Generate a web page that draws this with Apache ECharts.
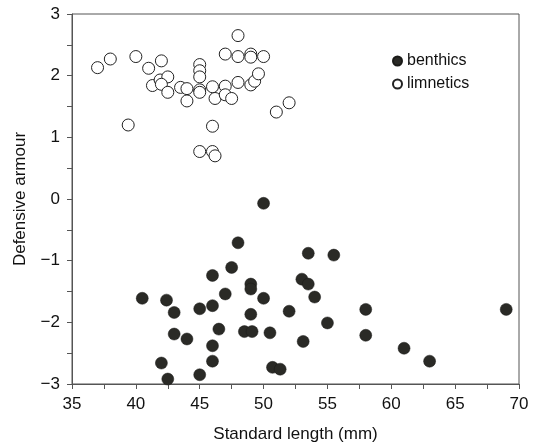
<!DOCTYPE html>
<html>
<head>
<meta charset="utf-8">
<script src="https://cdn.jsdelivr.net/npm/echarts@6/dist/echarts.min.js"></script>
<style>
  html, body { margin: 0; padding: 0; background: #fff; }
  #main { width: 539px; height: 444px; }
</style>
</head>
<body>
<div id="main"></div>
<script>
// benthics: [standard length, defensive armour]
var benthics = [
  [40.5, -1.61], [42.4, -1.64], [43.0, -1.84], [43.0, -2.19], [44.0, -2.27],
  [42.0, -2.66], [42.5, -2.92], [45.0, -2.85], [45.0, -1.78], [46.0, -1.24],
  [46.0, -1.73], [46.0, -2.38], [46.0, -2.63], [46.5, -2.11], [47.0, -1.54],
  [47.5, -1.11], [48.0, -0.71], [48.5, -2.15], [49.0, -1.38], [49.0, -1.46],
  [49.0, -1.87], [49.1, -2.15], [50.0, -0.07], [50.0, -1.61], [50.5, -2.17],
  [50.7, -2.73], [51.3, -2.76], [52.0, -1.82], [53.0, -1.30], [53.1, -2.31],
  [53.5, -0.88], [53.5, -1.38], [54.0, -1.59], [55.0, -2.01], [55.5, -0.91],
  [58.0, -1.79], [58.0, -2.21], [61.0, -2.42], [63.0, -2.63], [69.0, -1.79]
];
// limnetics
var limnetics = [
  [37.0, 2.13], [38.0, 2.27], [40.0, 2.31], [41.0, 2.12], [42.0, 2.24],
  [41.3, 1.84], [41.9, 1.93], [42.5, 1.98], [42.0, 1.86], [42.5, 1.73],
  [43.5, 1.81], [44.0, 1.79], [44.0, 1.59], [45.0, 2.18], [45.0, 2.08],
  [45.0, 1.98], [45.0, 1.77], [45.0, 1.73], [46.0, 1.82], [46.2, 1.63],
  [47.0, 2.35], [47.0, 1.83], [47.0, 1.69], [47.5, 1.63], [48.0, 2.65],
  [48.0, 2.31], [48.0, 1.89], [49.0, 2.35], [49.0, 2.30], [49.0, 1.85],
  [49.3, 1.91], [49.6, 2.03], [50.0, 2.31], [51.0, 1.41], [52.0, 1.56],
  [39.4, 1.20], [46.0, 1.18], [45.0, 0.77], [46.0, 0.77], [46.2, 0.70]
];
var seriesNames = ["benthics", "limnetics"];
var xTitle = "Standard length (mm)";
var yTitle = "Defensive armour";

var chart = echarts.init(document.getElementById("main"));
var font = "Liberation Sans, Arial, sans-serif";
var axisColor = "#555";

var option = {
  backgroundColor: "#fff",
  animation: false,
  grid: {
    left: 72, right: 20, top: 14, bottom: 60,
    outerBoundsMode: "none", containLabel: false,
    show: true, borderColor: axisColor, borderWidth: 1
  },
  legend: {
    data: [
      { name: "benthics", icon: "circle" },
      { name: "limnetics", icon: "circle" }
    ],
    orient: "vertical",
    left: 387, top: 48,
    itemWidth: 9, itemHeight: 9, itemGap: 7,
    textStyle: { fontFamily: font, fontSize: 16, color: "#111" }
  },
  xAxis: {
    type: "value", min: 35, max: 70, interval: 5,
    name: xTitle, nameLocation: "middle", nameGap: 42,
    nameTextStyle: { fontFamily: font, fontSize: 17, color: "#111" },
    axisLine: { show: true, onZero: false, lineStyle: { color: axisColor } },
    axisTick: { show: true, length: 5, lineStyle: { color: axisColor } },
    minorTick: { show: true, splitNumber: 2, length: 5, lineStyle: { color: axisColor } },
    splitLine: { show: false },
    axisLabel: { fontFamily: font, fontSize: 17, color: "#111", margin: 12 }
  },
  yAxis: {
    type: "value", min: -3, max: 3, interval: 1,
    name: yTitle, nameLocation: "middle", nameGap: 43,
    nameTextStyle: { fontFamily: font, fontSize: 17, color: "#111" },
    axisLine: { show: true, onZero: false, lineStyle: { color: axisColor } },
    axisTick: { show: true, length: 5, lineStyle: { color: axisColor } },
    minorTick: { show: true, splitNumber: 2, length: 5, lineStyle: { color: axisColor } },
    splitLine: { show: false },
    axisLabel: {
      fontFamily: font, fontSize: 17, color: "#111", margin: 12,
      formatter: function (v) { return String(v).replace("-", "\u2212"); }
    }
  },
  series: [
    {
      name: seriesNames[0], type: "scatter", data: benthics,
      symbolSize: 12,
      itemStyle: { color: "#2a2a26", borderColor: "#1a1a18", borderWidth: 0.5, opacity: 1 }
    },
    {
      name: seriesNames[1], type: "scatter", data: limnetics,
      symbolSize: 12,
      itemStyle: { color: "#fff", borderColor: "#222", borderWidth: 1, opacity: 1 }
    }
  ]
};

chart.setOption(option);
</script>
</body>
</html>
